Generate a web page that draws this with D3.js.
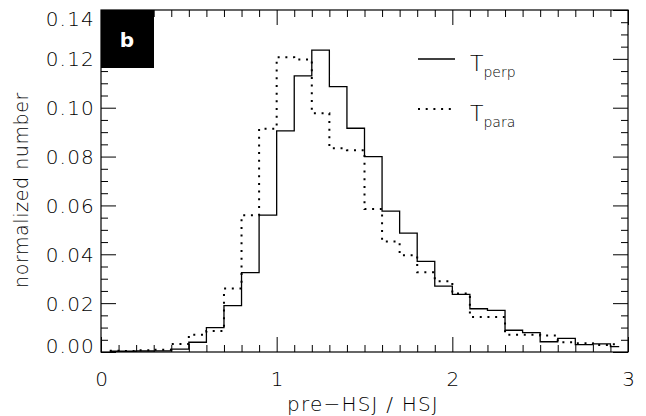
<!DOCTYPE html>
<html>
<head>
<meta charset="utf-8">
<script src="https://cdn.jsdelivr.net/npm/d3@7"></script>
<style>
  body { margin: 0; background: #fff; }
  svg text { font-family: "DejaVu Sans", sans-serif; font-weight: 200; fill: #000; }
</style>
</head>
<body>
<svg id="chart" width="646" height="416"></svg>
<script>
// bin centres (0.1 wide bins, 0..3)
var binCenters = [0.05, 0.15, 0.25, 0.35, 0.45, 0.55, 0.65, 0.75, 0.85, 0.95,
                  1.05, 1.15, 1.25, 1.35, 1.45, 1.55, 1.65, 1.75, 1.85, 1.95,
                  2.05, 2.15, 2.25, 2.35, 2.45, 2.55, 2.65, 2.75, 2.85, 2.95];

// T_perp (solid)
var tPerp = [0.0003, 0.0003, 0.0004, 0.0005, 0.0012, 0.0040, 0.0100, 0.0190, 0.0325, 0.0560,
             0.0905, 0.1130, 0.1236, 0.1086, 0.0916, 0.0800, 0.0577, 0.0487, 0.0371, 0.0270,
             0.0236, 0.0177, 0.0170, 0.0089, 0.0079, 0.0042, 0.0056, 0.0030, 0.0033, 0.0022];

// T_para (dotted)
var tPara = [0.0005, 0.0004, 0.0007, 0.0009, 0.0033, 0.0071, 0.0086, 0.0260, 0.0560, 0.0914,
             0.1207, 0.1197, 0.0977, 0.0834, 0.0826, 0.0585, 0.0452, 0.0396, 0.0326, 0.0290,
             0.0239, 0.0143, 0.0143, 0.0071, 0.0071, 0.0068, 0.0040, 0.0036, 0.0029, 0.0032];

var xMajor = [0, 1, 2, 3];
var yMajor = [0, 0.02, 0.04, 0.06, 0.08, 0.10, 0.12, 0.14];

// plot box (window.top is reserved, so use other names)
var plotL = 101, plotR = 628, plotT = 10, plotB = 352;

var svg = d3.select('#chart');

var x = d3.scaleLinear().domain([0, 3]).range([plotL, plotR]);
var y = d3.scaleLinear().domain([0, 0.14]).range([plotB, plotT]);

var xMinor = d3.range(0, 31).filter(function (i) { return i % 10 !== 0; }).map(function (i) { return i / 10; });
var yMinor = d3.range(0, 29).filter(function (i) { return i % 4 !== 0; }).map(function (i) { return i * 0.005; });

function styleAxis(g) {
    g.select('.domain').remove();
    g.selectAll('line').attr('stroke', '#000').attr('stroke-width', 1);
}

// bottom axis: major with labels, minor without
svg.append('g').attr('transform', 'translate(0,' + plotB + ')')
    .call(d3.axisBottom(x).tickValues(xMajor).tickSize(-15).tickPadding(28).tickFormat(d3.format('d')))
    .call(styleAxis)
    .selectAll('text').style('font-size', '20px').attr('dy', '0.32em');
svg.append('g').attr('transform', 'translate(0,' + plotB + ')')
    .call(d3.axisBottom(x).tickValues(xMinor).tickSize(-7).tickFormat(''))
    .call(styleAxis);

// top axis
svg.append('g').attr('transform', 'translate(0,' + plotT + ')')
    .call(d3.axisTop(x).tickValues(xMajor).tickSize(-15).tickFormat(''))
    .call(styleAxis);
svg.append('g').attr('transform', 'translate(0,' + plotT + ')')
    .call(d3.axisTop(x).tickValues(xMinor).tickSize(-7).tickFormat(''))
    .call(styleAxis);

// left axis
var yAx = svg.append('g').attr('transform', 'translate(' + plotL + ',0)')
    .call(d3.axisLeft(y).tickValues(yMajor).tickSize(-15).tickPadding(6).tickFormat(d3.format('.2f')))
    .call(styleAxis);
yAx.selectAll('text').style('font-size', '20px').style('letter-spacing', '1.2px')
    .attr('dy', function (d) {
        if (d === 0) return '0.0em';
        if (d === 0.14) return '0.75em';
        return '0.35em';
    });
svg.append('g').attr('transform', 'translate(' + plotL + ',0)')
    .call(d3.axisLeft(y).tickValues(yMinor).tickSize(-7).tickFormat(''))
    .call(styleAxis);

// right axis
svg.append('g').attr('transform', 'translate(' + plotR + ',0)')
    .call(d3.axisRight(y).tickValues(yMajor).tickSize(-15).tickFormat(''))
    .call(styleAxis);
svg.append('g').attr('transform', 'translate(' + plotR + ',0)')
    .call(d3.axisRight(y).tickValues(yMinor).tickSize(-7).tickFormat(''))
    .call(styleAxis);

// frame
svg.append('rect')
    .attr('x', plotL).attr('y', plotT)
    .attr('width', plotR - plotL).attr('height', plotB - plotT)
    .attr('fill', 'none').attr('stroke', '#000').attr('stroke-width', 1.2);

// histograms (IDL psym=10 style steps)
var line = d3.line()
    .x(function (d, i) { return x(binCenters[i]); })
    .y(function (d) { return y(d); })
    .curve(d3.curveStep);

svg.append('path').datum(tPerp)
    .attr('d', line)
    .attr('fill', 'none').attr('stroke', '#000').attr('stroke-width', 1.3);

svg.append('path').datum(tPara)
    .attr('d', line)
    .attr('fill', 'none').attr('stroke', '#000').attr('stroke-width', 2)
    .attr('stroke-dasharray', '2,5.7');

// panel label
svg.append('rect').attr('x', plotL).attr('y', plotT).attr('width', 53).attr('height', 58).attr('fill', '#000');
svg.append('text').attr('x', 127).attr('y', 47).attr('text-anchor', 'middle')
    .style('font-size', '20px').style('font-weight', 'bold').style('fill', '#fff').text('b');

// legend
var legend = [{ name: 'perp', dash: null, w: 1.3 }, { name: 'para', dash: '2,5.7', w: 2 }];
legend.forEach(function (d, i) {
    var ly = 59 + i * 50;
    svg.append('line').attr('x1', 418).attr('x2', 455).attr('y1', ly).attr('y2', ly)
        .attr('stroke', '#000').attr('stroke-width', d.w)
        .attr('stroke-dasharray', d.dash);
    var t = svg.append('text').attr('x', 470).attr('y', ly + 12)
        .style('font-size', '22px').style('opacity', 0.99);
    t.append('tspan').text('T');
    t.append('tspan').attr('dy', 6).style('font-size', '14px').text(d.name);
});

// axis titles
svg.append('text').attr('x', 363).attr('y', 411).attr('text-anchor', 'middle')
    .style('font-size', '20px').style('letter-spacing', '1.2px').text('pre\u2212HSJ / HSJ');
svg.append('text').attr('transform', 'translate(28,190) rotate(-90)').attr('text-anchor', 'middle')
    .style('font-size', '19px').style('letter-spacing', '0.6px').text('normalized number');
</script>
</body>
</html>
